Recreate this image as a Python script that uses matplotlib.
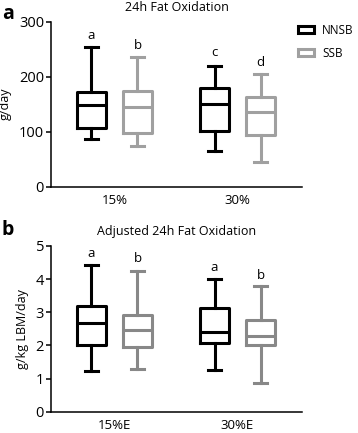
import matplotlib

matplotlib.use("Agg")

import matplotlib.pyplot as plt
from matplotlib.patches import Patch

plt.rcParams["font.family"] = ["Open Sans", "DejaVu Sans"]
plt.rcParams["font.size"] = 9

groups = ["NNSB", "SSB"]
colors_a = {"NNSB": "#000000", "SSB": "#a0a0a0"}
colors_b = {"NNSB": "#000000", "SSB": "#888888"}

# panel a: 24h fat oxidation (g/day); order: whislo, q1, med, q3, whishi
cats_a = ["15%", "30%"]
fat_a = {
    "NNSB": [[86, 106, 149, 172, 253], [64, 101, 150, 180, 220]],
    "SSB": [[73, 98, 144, 173, 236], [45, 94, 136, 163, 205]],
}
letters_a = {"NNSB": ["a", "c"], "SSB": ["b", "d"]}
letter_y_a = {"NNSB": [274, 244], "SSB": [256, 226]}

# panel b: adjusted (g/kg LBM/day)
cats_b = ["15%E", "30%E"]
fat_b = {
    "NNSB": [[1.23, 2.0, 2.67, 3.18, 4.42], [1.25, 2.08, 2.42, 3.13, 4.0]],
    "SSB": [[1.30, 1.95, 2.47, 2.92, 4.25], [0.87, 2.0, 2.28, 2.78, 3.8]],
}
letters_b = {"NNSB": ["a", "a"], "SSB": ["b", "b"]}
letter_y_b = {"NNSB": [4.76, 4.35], "SSB": [4.61, 4.12]}

offsets = {"NNSB": -0.187, "SSB": 0.187}
box_w = 0.236
lw = 2.2


def draw_panel(ax, cats, data, letters, letter_y, colors, ymax, step, ylabel, title):
    for g in groups:
        stats = []
        for vals in data[g]:
            lo, q1, med, q3, hi = vals
            stats.append({"whislo": lo, "q1": q1, "med": med, "q3": q3, "whishi": hi, "fliers": []})
        pos = [i + offsets[g] for i in range(len(cats))]
        c = colors[g]
        ax.bxp(stats, positions=pos, widths=box_w, showfliers=False, patch_artist=False,
               boxprops=dict(color=c, linewidth=lw),
               medianprops=dict(color=c, linewidth=lw, solid_capstyle="butt"),
               whiskerprops=dict(color=c, linewidth=lw),
               capprops=dict(color=c, linewidth=lw), capwidths=box_w * 0.42)
        for i, (lab, y) in enumerate(zip(letters[g], letter_y[g])):
            ax.text(pos[i], y, lab, ha="center", va="center", fontsize=9.5)
    ax.set_xlim(-0.516, 1.524)
    ax.set_ylim(0, ymax)
    ax.set_yticks([step * k for k in range(int(round(ymax / step)) + 1)])
    ax.set_xticks(range(len(cats)))
    ax.set_xticklabels(cats, fontsize=9.5)
    ax.tick_params(axis="x", length=0, pad=5)
    ax.tick_params(axis="y", length=3.5, width=1.1, pad=1.5, labelsize=10.5)
    for s in ["top", "right"]:
        ax.spines[s].set_visible(False)
    for s in ["left", "bottom"]:
        ax.spines[s].set_linewidth(1.1)
    ax.set_ylabel(ylabel, labelpad=5, fontsize=9)
    ax.set_title(title, fontsize=9, pad=8)


fig = plt.figure(figsize=(3.58, 4.33), dpi=100)
ax1 = fig.add_axes([0.1425, 0.569, 0.701, 0.381])
ax2 = fig.add_axes([0.1425, 0.049, 0.701, 0.383])

draw_panel(ax1, cats_a, fat_a, letters_a, letter_y_a, colors_a, 300, 100,
           "g/day", "24h Fat Oxidation")
draw_panel(ax2, cats_b, fat_b, letters_b, letter_y_b, colors_b, 5, 1,
           "g/kg LBM/day", "Adjusted 24h Fat Oxidation")

fig.text(0.005, 0.99, "a", fontsize=14, fontweight="bold", va="top", ha="left")
fig.text(0.005, 0.493, "b", fontsize=14, fontweight="bold", va="top", ha="left")

handles = [Patch(facecolor="white", edgecolor=colors_a[g], linewidth=2.2, label=g) for g in groups]
fig.legend(handles=handles, loc="upper left", bbox_to_anchor=(0.832, 0.945), frameon=False,
           borderpad=0, borderaxespad=0, fontsize=8.5, handlelength=1.4, handleheight=0.55,
           labelspacing=0.85, handletextpad=0.65)

fig.savefig("out.png", dpi=100)
